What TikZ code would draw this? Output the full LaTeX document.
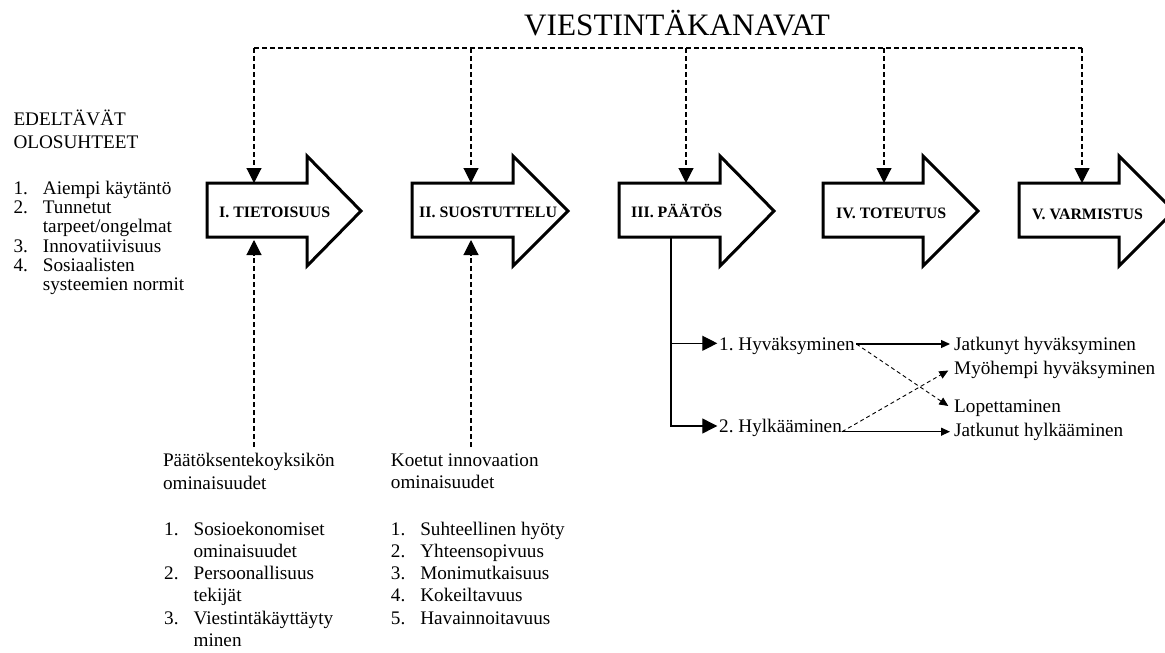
\documentclass[tikz,border=0pt]{standalone}
\usepackage{fontspec}
\setmainfont{Liberation Serif}
\usetikzlibrary{arrows.meta,calc}
\frenchspacing
\begin{document}
\begin{tikzpicture}[x=1pt,y=-1pt,
  txt/.style={font=\fontsize{19.2}{19.25}\selectfont, inner sep=0pt, anchor=base west, align=left},
  head/.style={txt, font=\fontsize{19.2}{22.6}\selectfont},
  lowlist/.style={txt, font=\fontsize{19.2}{22.3}\selectfont},
  stagebox/.style={draw=black, line width=3pt, fill=white, miter limit=10},
  stagelabel/.style={font=\bfseries\fontsize{15.9}{16}\selectfont, inner sep=0pt, anchor=base west},
  channel/.style={dashed, dash pattern=on 5pt off 3pt, line width=1.1pt},
  bigtip/.style={-{Triangle[length=15pt,width=15pt]}},
  branchtip/.style={-{Triangle[length=15pt,width=15pt]}},
  smalltip/.style={-{Triangle[length=9pt,width=8pt]}},
  treeline/.style={line width=1.2pt},
  outcomedash/.style={channel, line width=0.9pt, dash pattern=on 4pt off 3pt, smalltip},
]
\useasboundingbox (0,0) rectangle (1165,653);
\clip (0,0) rectangle (1165,653);

% stage arrows
\foreach \L/\H/\T in {207/307/361, 412/513/568, 619/720/774, 823/923/978, 1019/1119/1174}{
  \draw[stagebox] (\L,183) -- (\H,183) -- (\H,156) -- (\T,211) -- (\H,266)
                  -- (\H,237) -- (\L,237) -- cycle;
}
\node[stagelabel] (s1) at (219,217.5) {I. TIETOISUUS};
\node[stagelabel] (s2) at (419,217.5) {II. SUOSTUTTELU};
\node[stagelabel] (s3) at (631,217.5) {III. PÄÄTÖS};
\node[stagelabel] (s4) at (836,218.5) {IV. TOTEUTUS};
\node[stagelabel] (s5) at (1032,219) {V. VARMISTUS};

% communication channels
\node[font=\fontsize{31.2}{31.2}\selectfont, inner sep=0pt, anchor=base] (title) at (677,35.5) {VIESTINTÄKANAVAT};
\coordinate (c1) at (254,48);
\coordinate (c2) at (471,48);
\coordinate (c3) at (686,48);
\coordinate (c4) at (884,48);
\coordinate (c5) at (1082,48);
\coordinate (i1) at (254,183);
\coordinate (i2) at (471,183);
\coordinate (i3) at (686,183);
\coordinate (i4) at (884,183);
\coordinate (i5) at (1082,183);
\draw[channel] (c1) -- (c5);
\foreach \k in {1,...,5}{
  \draw[channel, bigtip] (c\k) -- (i\k);
}

% prior conditions (multi-line nodes sit on the baseline of their last line)
\node[head] (prior) at (13.3,148.3) {EDELTÄVÄT\\OLOSUHTEET};
\node[txt] (priorlist) at (13.3,290.55) {%
  \makebox[29.4pt][l]{1.}Aiempi käytäntö\\
  \makebox[29.4pt][l]{2.}Tunnetut\\
  \hspace*{29.4pt}tarpeet/ongelmat\\
  \makebox[29.4pt][l]{3.}Innovatiivisuus\\
  \makebox[29.4pt][l]{4.}Sosiaalisten\\
  \hspace*{29.4pt}systeemien normit};

% characteristics of the decision-making unit
\node[head] (unit) at (162.8,489.1) {Päätöksentekoyksikön\\ominaisuudet};
\node[lowlist] (unitlist) at (164,646.5) {%
  \makebox[29.4pt][l]{1.}Sosioekonomiset\\
  \hspace*{29.4pt}ominaisuudet\\
  \makebox[29.4pt][l]{2.}Persoonallisuus\\
  \hspace*{29.4pt}tekijät\\
  \makebox[29.4pt][l]{3.}Viestintäkäyttäyty\\
  \hspace*{29.4pt}minen};
\coordinate (u0) at (254,447);
\coordinate (u1) at (254,240);
\draw[channel, bigtip] (u0) -- (u1);

% perceived characteristics of the innovation
\node[head] (innov) at (390.7,488.6) {Koetut innovaation\\ominaisuudet};
\node[lowlist] (innovlist) at (390.7,624.2) {%
  \makebox[29.4pt][l]{1.}Suhteellinen hyöty\\
  \makebox[29.4pt][l]{2.}Yhteensopivuus\\
  \makebox[29.4pt][l]{3.}Monimutkaisuus\\
  \makebox[29.4pt][l]{4.}Kokeiltavuus\\
  \makebox[29.4pt][l]{5.}Havainnoitavuus};
\coordinate (v0) at (471,447);
\coordinate (v1) at (471,240);
\draw[channel, bigtip] (v0) -- (v1);

% decision outcomes
\node[txt] (acc) at (719,350.7) {1. Hyväksyminen};
\node[txt] (rej) at (719,432.7) {2. Hylkääminen};
\node[txt] (contacc) at (954,350) {Jatkunyt hyväksyminen};
\node[txt] (lateacc) at (954,374.3) {Myöhempi hyväksyminen};
\node[txt] (discont) at (954,412.7) {Lopettaminen};
\node[txt] (contrej) at (954,436.7) {Jatkunut hylkääminen};

\coordinate (d0) at (671,237);
\coordinate (accin) at ($(acc.base west)+(-1.7,-7.4)$);
\coordinate (rejin) at ($(rej.base west)+(-1.7,-6.7)$);
\draw[treeline, branchtip] (d0) |- (accin);
\draw[treeline, branchtip] (d0) |- (rejin);

\coordinate (accout) at ($(acc.base east)+(1.5,-6.7)$);
\coordinate (rejout) at ($(rej.base east)+(0,-1)$);
\draw[treeline, smalltip] (accout) -- ($(contacc.base west)+(-4,-6)$);
\draw[treeline, smalltip] (rejout) -- ($(contrej.base west)+(-4,-5)$);
\draw[outcomedash] (accout) -- ($(discont.base west)+(-5.7,-6.7)$);
\draw[outcomedash] (rejout) -- ($(lateacc.base west)+(-5.7,-3.8)$);
\end{tikzpicture}
\end{document}
